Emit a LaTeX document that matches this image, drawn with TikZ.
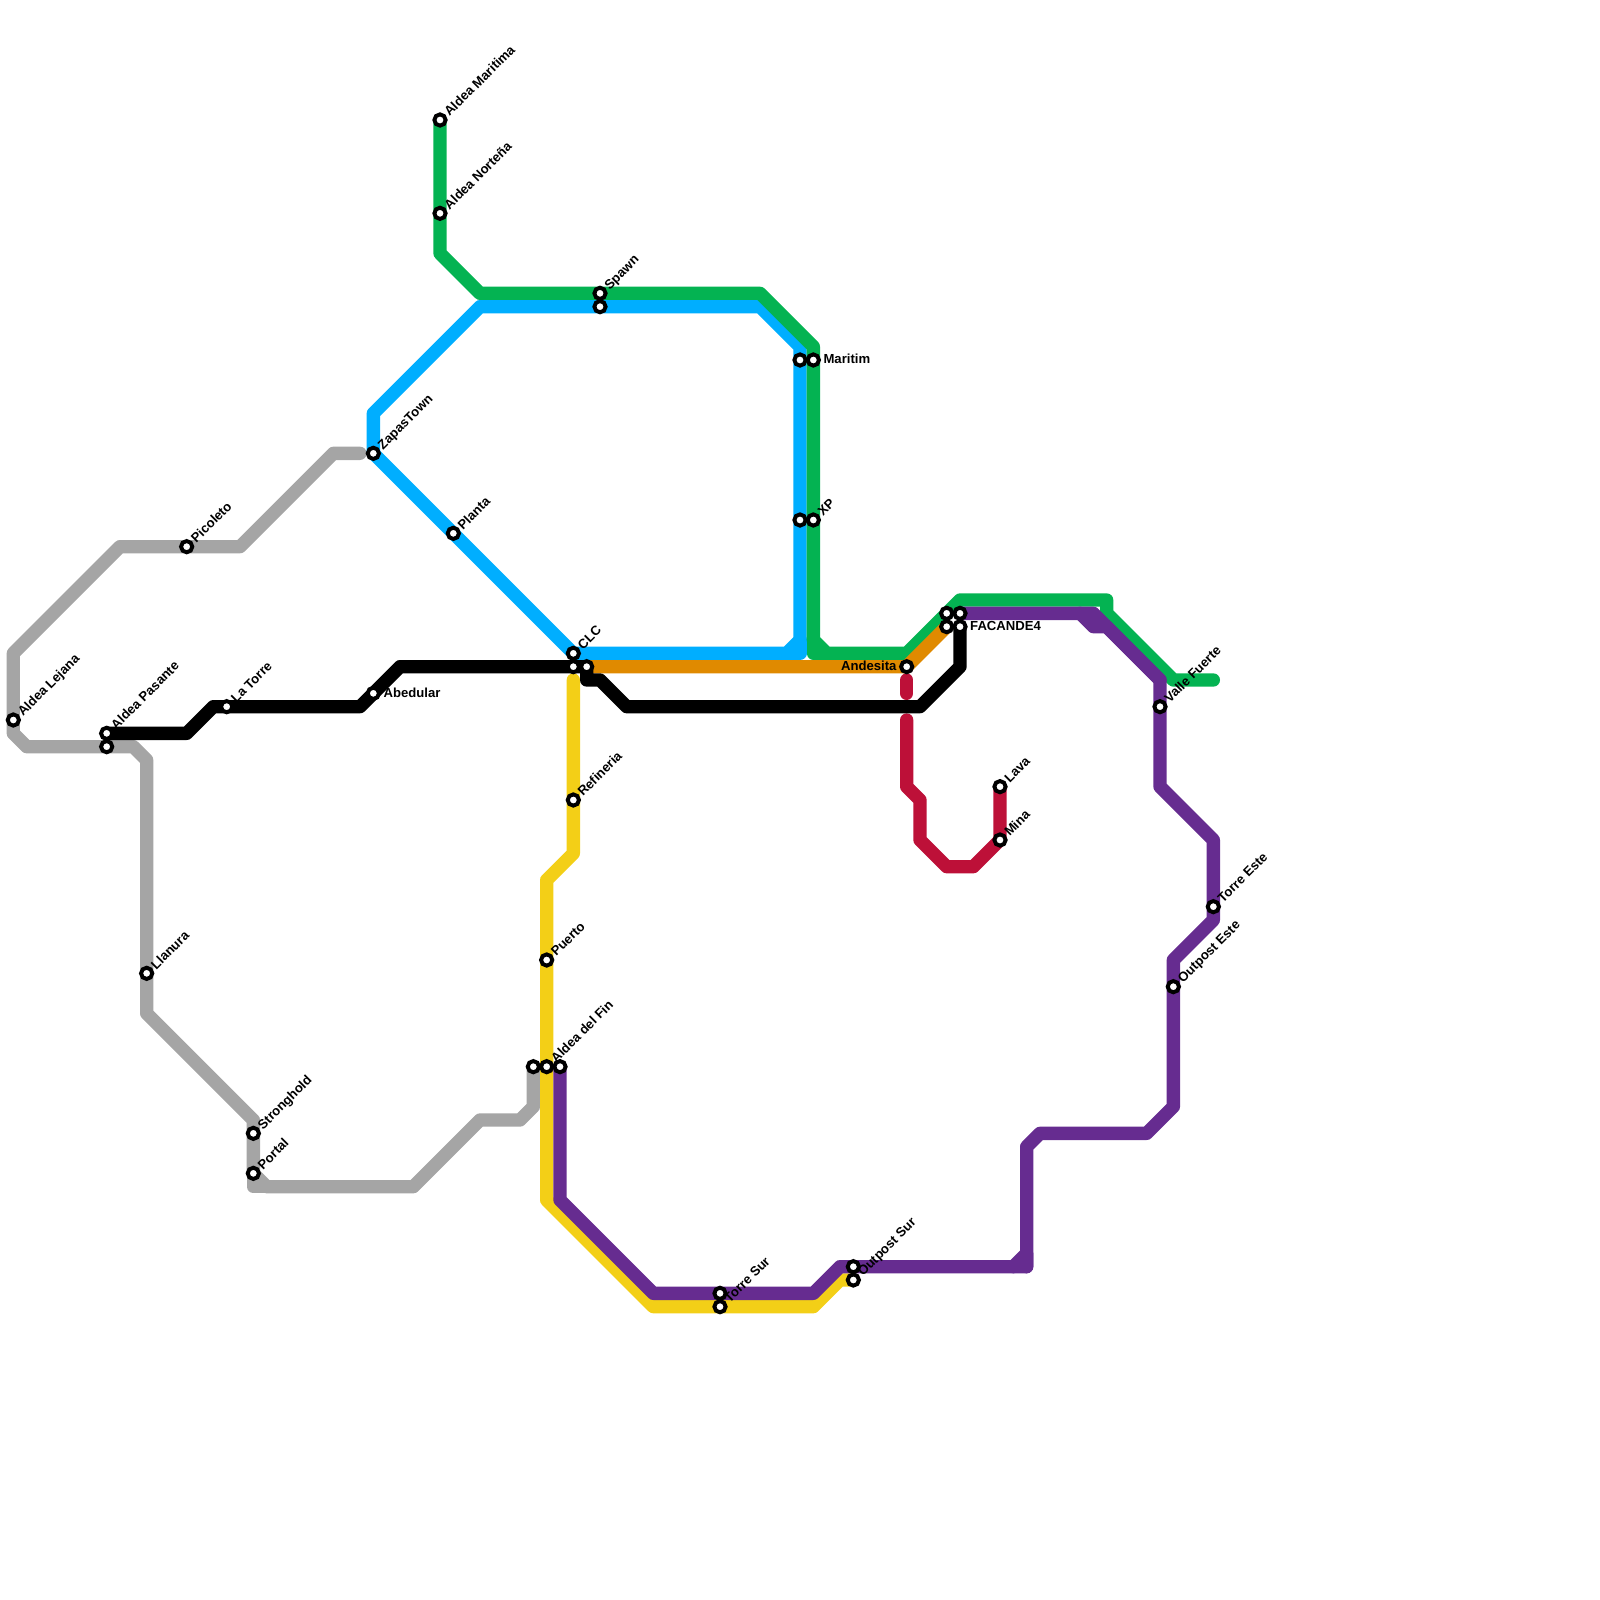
\documentclass[tikz,border=0pt]{standalone}
\usepackage{fontspec}
\setmainfont{Liberation Sans}
\usepackage{xcolor}
\definecolor{linegray}{HTML}{A5A5A5}
\definecolor{linegreen}{HTML}{04B352}
\definecolor{lineblue}{HTML}{00AEFF}
\definecolor{lineorange}{HTML}{E08A00}
\definecolor{lineyellow}{HTML}{F3CF17}
\definecolor{linepurple}{HTML}{662C90}
\definecolor{linered}{HTML}{BD1038}
\pgfdeclarelayer{lines}
\pgfsetlayers{lines,main}

\begin{document}
\begin{tikzpicture}[
  x=0.25cm, y=-0.25cm,
  % Node Styles
  station/.style={circle, draw=black, fill=white, line width=2.1pt, minimum size=6pt, inner sep=0pt},
  diaglabel/.style={rotate=45, anchor=west, inner xsep=0.6pt, inner ysep=0pt, text height=5pt, text depth=0pt, font=\fontsize{7}{8}\selectfont\bfseries},
  rightlabel/.style={anchor=west, inner xsep=1.2pt, inner ysep=0pt, yshift=0.5pt, font=\fontsize{7}{8}\selectfont\bfseries},
  leftlabel/.style={anchor=east, inner xsep=1.2pt, inner ysep=0pt, yshift=0.5pt, font=\fontsize{7}{8}\selectfont\bfseries},
  % Line Styles
  metro/.style={line width=7.11pt, line cap=round, line join=round},
  grayline/.style={metro, linegray},
  greenline/.style={metro, linegreen},
  blueline/.style={metro, lineblue},
  orangeline/.style={metro, lineorange},
  yellowline/.style={metro, lineyellow},
  purpleline/.style={metro, linepurple},
  redline/.style={metro, linered},
  blackline/.style={metro, black}
]
\useasboundingbox (0,0) rectangle (120,120);

% Stations
\node[station] (S_AldeaMaritima) at (33,9) {};
\node[station] (S_AldeaNortena) at (33,16) {};
\node[station] (S_Spawn) at (45,22) {};
\node[station] (S_Spawn2) at (45,23) {};
\node[station] (S_MaritimB) at (60,27) {};
\node[station] (S_Maritim) at (61,27) {};
\node[station] (S_XPB) at (60,39) {};
\node[station] (S_XP) at (61,39) {};
\node[station] (S_ZapasTown) at (28,34) {};
\node[station] (S_Planta) at (34,40) {};
\node[station] (S_Picoleto) at (14,41) {};
\node[station] (S_CLC) at (43,49) {};
\node[station] (S_CLC2) at (43,50) {};
\node[station] (S_CLC3) at (44,50) {};
\node[station] (S_Abedular) at (28,52) {};
\node[station] (S_LaTorre) at (17,53) {};
\node[station] (S_AldeaLejana) at (1,54) {};
\node[station] (S_AldeaPasante) at (8,55) {};
\node[station] (S_AldeaPasante2) at (8,56) {};
\node[station] (S_Llanura) at (11,73) {};
\node[station] (S_Stronghold) at (19,85) {};
\node[station] (S_Portal) at (19,88) {};
\node[station] (S_Refineria) at (43,60) {};
\node[station] (S_Puerto) at (41,72) {};
\node[station] (S_AldeaFinA) at (40,80) {};
\node[station] (S_AldeaFinB) at (41,80) {};
\node[station] (S_AldeaFin) at (42,80) {};
\node[station] (S_TorreSur) at (54,97) {};
\node[station] (S_TorreSur2) at (54,98) {};
\node[station] (S_OutpostSur) at (64,95) {};
\node[station] (S_OutpostSur2) at (64,96) {};
\node[station] (S_Andesita) at (68,50) {};
\node[station] (S_FacandeA) at (71,46) {};
\node[station] (S_FacandeB) at (72,46) {};
\node[station] (S_FacandeC) at (71,47) {};
\node[station] (S_Facande) at (72,47) {};
\node[station] (S_Lava) at (75,59) {};
\node[station] (S_Mina) at (75,63) {};
\node[station] (S_ValleFuerte) at (87,53) {};
\node[station] (S_OutpostEste) at (88,74) {};
\node[station] (S_TorreEste) at (91,68) {};

% Free ends
\coordinate (E_GrayTop) at (27,34);
\coordinate (E_GreenEnd) at (91,51);
\coordinate (E_YellowTop) at (43,51);
\coordinate (E_RedA) at (68,51);
\coordinate (E_RedB) at (68,52);
\coordinate (E_RedC) at (68,54);
\coordinate (E_BlueCorner) at (60,49);
\coordinate (E_GreenCorner) at (61,49);
\coordinate (E_GrayCorner) at (19,89);
\coordinate (E_PurpleCorner) at (77,95);

% Lines
\begin{pgfonlayer}{lines}
\draw[grayline] (E_GrayTop) -- (25,34) -- (18,41) -- (S_Picoleto.center) -- (9,41) -- (1,49) -- (S_AldeaLejana.center) -- (1,55) -- (2,56) -- (S_AldeaPasante2.center) -- (10,56) -- (11,57) -- (S_Llanura.center) -- (11,76) -- (19,84) -- (S_Stronghold.center) -- (S_Portal.center) -- (20,89) -- (31,89) -- (36,84) -- (39,84) -- (40,83) -- (S_AldeaFinA.center);
\draw[grayline] (S_Portal.center) -- (E_GrayCorner) -- (20,89);
\draw[blueline] (S_ZapasTown.center) -- (28,31) -- (36,23) -- (S_Spawn2.center) -- (57,23) -- (60,26) -- (S_MaritimB.center) -- (S_XPB.center) -- (60,48) -- (59,49) -- (S_CLC.center) -- (S_Planta.center) -- (S_ZapasTown.center);
\draw[blueline] (60,48) -- (E_BlueCorner) -- (59,49);
\draw[greenline] (S_AldeaMaritima.center) -- (S_AldeaNortena.center) -- (33,19) -- (36,22) -- (S_Spawn.center) -- (57,22) -- (61,26) -- (S_Maritim.center) -- (S_XP.center) -- (61,48) -- (62,49) -- (68,49) -- (72,45) -- (83,45) -- (83,46) -- (88,51) -- (E_GreenEnd);
\draw[greenline] (61,48) -- (E_GreenCorner) -- (62,49);
\draw[orangeline] (S_CLC3.center) -- (S_Andesita.center) -- (S_FacandeC.center);
\draw[yellowline] (E_YellowTop) -- (S_Refineria.center) -- (43,64) -- (41,66) -- (S_Puerto.center) -- (S_AldeaFinB.center) -- (41,90) -- (49,98) -- (S_TorreSur2.center) -- (61,98) -- (63,96) -- (S_OutpostSur2.center);
\draw[purpleline] (S_AldeaFin.center) -- (42,90) -- (49,97) -- (S_TorreSur.center) -- (61,97) -- (63,95) -- (S_OutpostSur.center) -- (77,95) -- (77,86) -- (78,85) -- (86,85) -- (88,83) -- (S_OutpostEste.center) -- (88,72) -- (91,69) -- (S_TorreEste.center) -- (91,63) -- (87,59) -- (S_ValleFuerte.center) -- (87,51) -- (82,46) -- (S_FacandeB.center);
\draw[purpleline] (81,46) -- (82,47) -- (83,47) -- (87,51);
\draw[purpleline] (76,95) -- (77,94) -- (E_PurpleCorner);
\draw[redline] (E_RedA) -- (E_RedB);
\draw[redline] (E_RedC) -- (68,59) -- (69,60) -- (69,63) -- (71,65) -- (73,65) -- (S_Mina.center) -- (S_Lava.center);
\draw[blackline] (S_AldeaPasante.center) -- (14,55) -- (16,53) -- (S_LaTorre.center) -- (27,53) -- (S_Abedular.center) -- (30,50) -- (S_CLC2.center) -- (S_CLC3.center) -- (44,51) -- (45,51) -- (47,53) -- (69,53) -- (72,50) -- (S_Facande.center);
\end{pgfonlayer}

% Labels
\node[diaglabel] (L_AldeaMaritima) at (S_AldeaMaritima.45) {Aldea Maritima};
\node[diaglabel] (L_AldeaNortena) at (S_AldeaNortena.45) {Aldea Norteña};
\node[diaglabel] (L_Spawn) at (S_Spawn.45) {Spawn};
\node[rightlabel] (L_Maritim) at (S_Maritim.east) {Maritim};
\node[diaglabel] (L_XP) at (S_XP.45) {XP};
\node[diaglabel] (L_ZapasTown) at (S_ZapasTown.45) {ZapasTown};
\node[diaglabel] (L_Planta) at (S_Planta.45) {Planta};
\node[diaglabel] (L_Picoleto) at (S_Picoleto.45) {Picoleto};
\node[diaglabel] (L_CLC) at (S_CLC.45) {CLC};
\node[rightlabel] (L_Abedular) at (S_Abedular.east) {Abedular};
\node[diaglabel] (L_LaTorre) at (S_LaTorre.45) {La Torre};
\node[diaglabel] (L_AldeaLejana) at (S_AldeaLejana.45) {Aldea Lejana};
\node[diaglabel] (L_AldeaPasante) at (S_AldeaPasante.45) {Aldea Pasante};
\node[diaglabel] (L_Llanura) at (S_Llanura.45) {Llanura};
\node[diaglabel] (L_Stronghold) at (S_Stronghold.45) {Stronghold};
\node[diaglabel] (L_Portal) at (S_Portal.45) {Portal};
\node[diaglabel] (L_Refineria) at (S_Refineria.45) {Refineria};
\node[diaglabel] (L_Puerto) at (S_Puerto.45) {Puerto};
\node[diaglabel] (L_AldeaFin) at (S_AldeaFinB.45) {Aldea del Fin};
\node[diaglabel] (L_TorreSur) at (S_TorreSur2.45) {Torre Sur};
\node[diaglabel] (L_OutpostSur) at (S_OutpostSur2.45) {Outpost Sur};
\node[leftlabel] (L_Andesita) at (S_Andesita.west) {Andesita};
\node[rightlabel] (L_Facande) at (S_Facande.east) {FACANDE4};
\node[diaglabel] (L_Lava) at (S_Lava.45) {Lava};
\node[diaglabel] (L_Mina) at (S_Mina.45) {Mina};
\node[diaglabel] (L_ValleFuerte) at (S_ValleFuerte.45) {Valle Fuerte};
\node[diaglabel] (L_OutpostEste) at (S_OutpostEste.45) {Outpost Este};
\node[diaglabel] (L_TorreEste) at (S_TorreEste.45) {Torre Este};

\end{tikzpicture}
\end{document}
